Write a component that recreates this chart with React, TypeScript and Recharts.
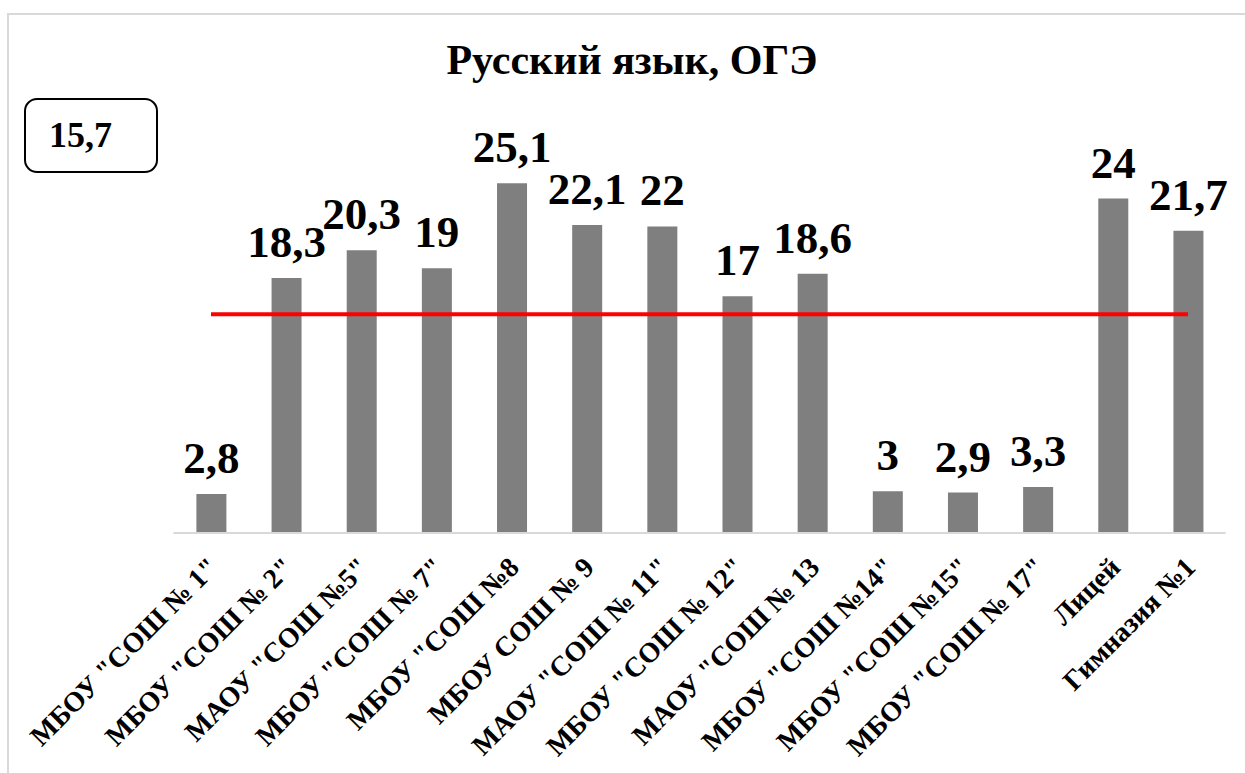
import React from 'react';
import { ComposedChart, Bar, Line, XAxis, YAxis, LabelList } from 'recharts';

const categories = [
  'МБОУ "СОШ № 1"',
  'МБОУ "СОШ № 2"',
  'МАОУ "СОШ №5"',
  'МБОУ "СОШ № 7"',
  'МБОУ "СОШ №8',
  'МБОУ СОШ № 9',
  'МАОУ "СОШ № 11"',
  'МБОУ "СОШ № 12"',
  'МАОУ "СОШ № 13',
  'МБОУ "СОШ №14"',
  'МБОУ "СОШ №15"',
  'МБОУ "СОШ № 17"',
  'Лицей',
  'Гимназия №1',
];
const scores = [2.8, 18.3, 20.3, 19, 25.1, 22.1, 22, 17, 18.6, 3, 2.9, 3.3, 24, 21.7];
const average = 15.7;
const titleText = 'Русский язык, ОГЭ';

const data = categories.map((name, i) => ({ name, score: scores[i], avg: average }));

const FONT = '"Liberation Serif", "Times New Roman", serif';
const fmt = (v: number) => String(v).replace('.', ',');

const Tick = (props: any) => {
  const { x, y, payload } = props;
  const ax = x + 9;
  const ay = y + 28;
  return (
    <text
      x={ax}
      y={ay}
      textAnchor="end"
      fontFamily={FONT}
      fontWeight="bold"
      fontSize={28}
      fill="#000"
      transform={`rotate(-45, ${ax}, ${ay})`}
    >
      {payload.value}
    </text>
  );
};

const BarLabel = (props: any) => {
  const { x, y, width, value } = props;
  return (
    <text
      x={x + width / 2}
      y={y - 21}
      textAnchor="middle"
      fontFamily={FONT}
      fontWeight="bold"
      fontSize={45}
      fill="#000"
    >
      {fmt(value)}
    </text>
  );
};

export default function App() {
  return (
    <div style={{ position: 'absolute', left: 0, top: 0, width: 1245, height: 773, background: '#fff', overflow: 'hidden' }}>
      <div
        style={{
          position: 'absolute',
          left: 7,
          top: 13,
          width: 1300,
          height: 800,
          borderLeft: '2px solid #d9d9d9',
          borderTop: '2px solid #d9d9d9',
          boxSizing: 'border-box',
        }}
      />
      <div style={{ position: 'absolute', left: 0, top: 0 }}>
        <ComposedChart
          width={1245}
          height={773}
          data={data}
          margin={{ top: 115, right: 19.4, bottom: 0, left: 173.4 }}
        >
          <XAxis
            dataKey="name"
            interval={0}
            height={240}
            tickLine={false}
            axisLine={{ stroke: '#d9d9d9', strokeWidth: 2 }}
            tick={<Tick />}
          />
          <YAxis hide domain={[0, 30]} />
          <Bar dataKey="score" fill="#7f7f7f" barSize={30} isAnimationActive={false}>
            <LabelList dataKey="score" content={<BarLabel />} />
          </Bar>
          <Line
            dataKey="avg"
            stroke="#ff0000"
            strokeWidth={4}
            dot={false}
            activeDot={false}
            isAnimationActive={false}
          />
        </ComposedChart>
      </div>
      <svg style={{ position: 'absolute', left: 0, top: 0 }} width={1245} height={773} pointerEvents="none">
        <text x={632} y={74} textAnchor="middle" fontFamily={FONT} fontWeight="bold" fontSize={42} fill="#000">
          {titleText}
        </text>
        <rect x={25} y={99} width={132} height={73} rx={12} ry={12} fill="#fff" stroke="#000" strokeWidth={2} />
        <text x={49} y={147} fontFamily={FONT} fontWeight="bold" fontSize={36} fill="#000">
          {fmt(average)}
        </text>
      </svg>
    </div>
  );
}
